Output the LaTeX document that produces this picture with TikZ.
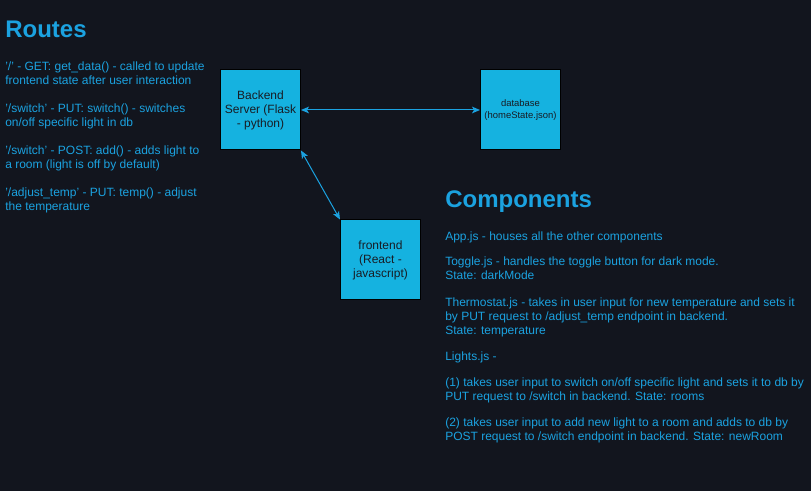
\documentclass[tikz,border=0pt]{standalone}
\usepackage{fontspec}
\setmainfont{Liberation Sans}
\usetikzlibrary{arrows.meta}

\definecolor{pagedark}{RGB}{18,21,30}
\definecolor{boxblue}{RGB}{21,178,224}
\definecolor{labelblue}{RGB}{27,162,224}
\definecolor{boxlabel}{RGB}{24,28,36}

\begin{document}
\begin{tikzpicture}[x=0.75pt,y=0.75pt,yscale=-1,xscale=1,
  compbox/.style={draw={rgb, 255:red, 0; green, 0; blue, 0}, line width=0.75pt, fill=boxblue, text=boxlabel,
    minimum width=60pt, minimum height=60pt, inner sep=0.75pt, align=center, font=\fontsize{9}{10.5}\selectfont},
  heading/.style={anchor=base west, inner sep=0pt, text=labelblue, font=\fontsize{18}{21}\selectfont\bfseries},
  para/.style={anchor=base west, inner sep=0pt, text=labelblue, align=left, font=\fontsize{9}{10.5}\selectfont},
  link/.style={draw=labelblue, line width=0.75pt, {Stealth[length=6pt,width=5pt,inset=1.5pt]}-{Stealth[length=6pt,width=5pt,inset=1.5pt]}}]
%set diagram to 811 x 491
\fill [pagedark] (0,0) rectangle (811,491);
\useasboundingbox (0,0) rectangle (811,491);

%Shape: Rectangle [backend]
\node [compbox] (backend) at (260.5,110) {Backend\\Server (Flask\\- python)};
%Shape: Rectangle [database]
\node [compbox, font=\fontsize{7.1}{9}\selectfont] (database) at (520.5,110) {database\\(homeState.json)};
%Shape: Rectangle [frontend]
\node [compbox] (frontend) at (380.5,260) {frontend\\(React -\\javascript)};

%Straight Lines
\draw [link] (backend) -- (database);
%Straight Lines
\draw [link] (backend.south east) -- (frontend.north west);

% Text Node (anchored on last line)
\node [heading] (routes) at (5,38) {Routes};
% Text Node
\node [para] (rget) at (5,85) {'/' - GET: get\_data() - called to update\\frontend state after user interaction};
% Text Node
\node [para] (rswitch) at (5,127) {'/switch' - PUT: switch() - switches\\on/off specific light in db};
% Text Node
\node [para] (radd) at (5,169) {'/switch' - POST: add() - adds light to\\a room (light is off by default)};
% Text Node
\node [para] (rtemp) at (5,211) {'/adjust\_temp' - PUT: temp() - adjust\\the temperature};

% Text Node
\node [heading] (components) at (445,208) {Components};
% Text Node
\node [para] (capp) at (445,241) {App.js - houses all the other components};
% Text Node
\node [para] (ctoggle) at (445,280) {Toggle.js - handles the toggle button for dark mode.\\State: darkMode};
% Text Node
\node [para] (cthermo) at (445,335) {Thermostat.js - takes in user input for new temperature and sets it\\by PUT request to /adjust\_temp endpoint in backend.\\State: temperature};
% Text Node
\node [para] (clights) at (445,361) {Lights.js -};
% Text Node
\node [para] (clone) at (445,401) {(1) takes user input to switch on/off specific light and sets it to db by\\PUT request to /switch in backend. State: rooms};
% Text Node
\node [para] (cltwo) at (445,441) {(2) takes user input to add new light to a room and adds to db by\\POST request to /switch endpoint in backend. State: newRoom};

\end{tikzpicture}
\end{document}
